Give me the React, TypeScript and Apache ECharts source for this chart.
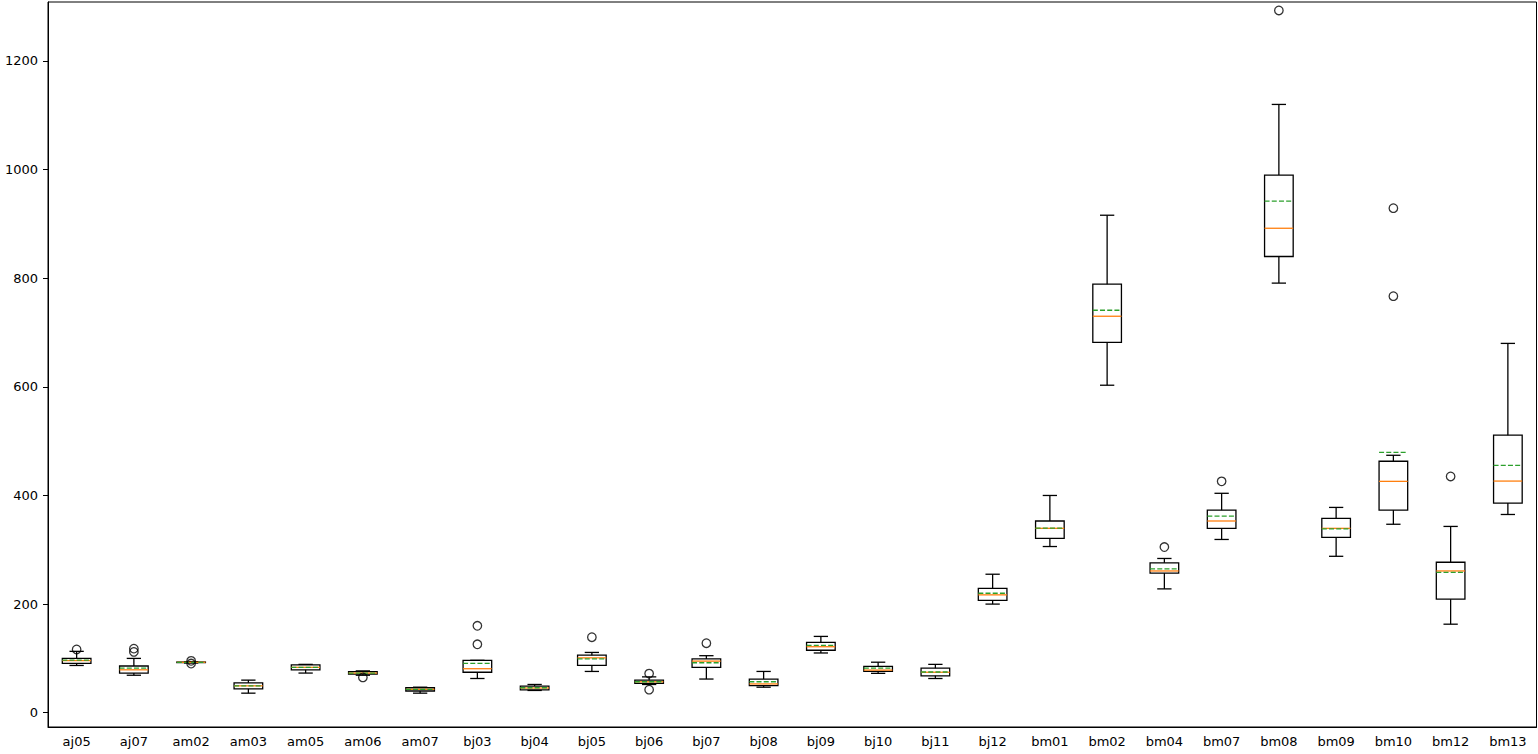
import React, { useEffect, useRef } from "react";
import * as echarts from "echarts";

const categories = [
  "aj05", "aj07", "am02", "am03", "am05", "am06", "am07", "bj03", "bj04", "bj05",
  "bj06", "bj07", "bj08", "bj09", "bj10", "bj11", "bj12", "bm01", "bm02", "bm04",
  "bm07", "bm08", "bm09", "bm10", "bm12", "bm13",
];

// whisker low, Q1, median, Q3, whisker high
const whiskerLow = [87, 69, 91.5, 36, 73, 69, 36, 63, 41, 76, 52, 62, 47, 110, 72.5, 63, 200, 306, 603, 228, 319, 791, 288, 347, 163, 365];
const q1 = [91, 73, 92.3, 44, 79, 71, 40, 74.5, 42, 87, 54, 83.5, 50, 115, 76, 68, 207, 321, 682, 257, 339.5, 840, 323, 373, 209, 386];
const median = [96, 79, 92.8, 49.5, 83.5, 73, 43, 81, 45.5, 101, 57, 95, 53, 121.5, 78.5, 74.5, 217, 339.5, 730, 261, 353, 892, 339.5, 426, 261, 426.5];
const q3 = [100, 86, 93.3, 55, 88, 75.5, 46, 96.5, 49, 106, 60, 99, 62, 129.5, 85.5, 82, 229, 353, 789, 276, 373, 990, 358, 463, 277, 511];
const whiskerHigh = [113, 100, 94, 60, 89, 77, 47, 96.5, 52, 111, 66, 105, 76, 140.5, 93, 89, 255, 400, 916, 284, 404, 1120, 378, 474, 343, 680];
const means = [97, 82, 92.8, 49.5, 83.5, 73, 43, 91, 46, 99, 57, 92, 57, 124, 82, 75, 220, 340, 741, 265, 362, 942, 338.5, 479.5, 258.5, 455.5];

// outliers as [category index, value]
const outliers: [number, number][] = [
  [0, 116.5],
  [1, 112], [1, 118],
  [2, 90.5], [2, 95.5],
  [5, 65],
  [7, 126], [7, 160],
  [9, 139],
  [10, 72], [10, 42.5],
  [11, 128],
  [19, 305],
  [20, 426],
  [21, 1293],
  [23, 767], [23, 929],
  [24, 435],
];

const yTicks = [0, 200, 400, 600, 800, 1000, 1200];

export default function App() {
  const ref = useRef<HTMLDivElement>(null);

  useEffect(() => {
    if (!ref.current) return;
    const chart = echarts.init(ref.current, null, { renderer: "svg" });

    const boxData = categories.map((_, i) => [
      i, whiskerLow[i], q1[i], median[i], q3[i], whiskerHigh[i], means[i],
    ]);

    const lw = 1.3;

    const renderItem = (params: any, api: any) => {
      const idx = api.value(0);
      const low = api.coord([idx, api.value(1)]);
      const b1 = api.coord([idx, api.value(2)]);
      const med = api.coord([idx, api.value(3)]);
      const b3 = api.coord([idx, api.value(4)]);
      const high = api.coord([idx, api.value(5)]);
      const mn = api.coord([idx, api.value(6)]);
      const band = api.size([1, 0])[0];
      const hw = band * 0.25;
      const cw = band * 0.125;
      const cx = low[0];
      const black = { stroke: "#000", lineWidth: lw, fill: "none" };
      return {
        type: "group",
        children: [
          { type: "line", shape: { x1: cx, y1: b3[1], x2: cx, y2: high[1] }, style: black },
          { type: "line", shape: { x1: cx, y1: low[1], x2: cx, y2: b1[1] }, style: black },
          { type: "line", shape: { x1: cx - cw, y1: high[1], x2: cx + cw, y2: high[1] }, style: black },
          { type: "line", shape: { x1: cx - cw, y1: low[1], x2: cx + cw, y2: low[1] }, style: black },
          {
            type: "rect",
            shape: { x: cx - hw, y: b3[1], width: hw * 2, height: b1[1] - b3[1] },
            style: { stroke: "#000", lineWidth: lw, fill: "none" },
          },
          {
            type: "line",
            shape: { x1: cx - hw, y1: med[1], x2: cx + hw, y2: med[1] },
            style: { stroke: "#ff7f0e", lineWidth: lw },
          },
          {
            type: "line",
            shape: { x1: cx - hw, y1: mn[1], x2: cx + hw, y2: mn[1] },
            style: { stroke: "#2ca02c", lineWidth: lw, lineDash: [5, 2.2] },
          },
        ],
      };
    };

    const font = "DejaVu Sans";

    chart.setOption({
      animation: false,
      grid: {
        left: 48,
        right: 1.5,
        top: 2,
        bottom: 27,
        show: true,
        borderColor: "#000",
        borderWidth: 1,
        backgroundColor: "#fff",
      },
      xAxis: {
        type: "category",
        data: categories,
        boundaryGap: true,
        axisLine: { onZero: false, lineStyle: { color: "#000", width: 1 } },
        axisTick: { alignWithLabel: true, length: 5, lineStyle: { color: "#000", width: 1 } },
        axisLabel: { color: "#000", fontSize: 13, fontFamily: font, margin: 8, interval: 0 },
        splitLine: { show: false },
      },
      yAxis: {
        type: "value",
        min: -26.3,
        max: 1308.6,
        splitNumber: 7,
        axisLine: { show: true, onZero: false, lineStyle: { color: "#000", width: 1 } },
        axisTick: { show: true, length: 5, lineStyle: { color: "#000", width: 1 }, customValues: yTicks },
        axisLabel: {
          color: "#000",
          fontSize: 13,
          fontFamily: font,
          margin: 10,
          customValues: yTicks,
          formatter: (v: number) => String(Math.round(v)),
        },
        splitLine: { show: false },
      },
      series: [
        {
          type: "custom",
          renderItem,
          data: boxData,
          encode: { x: 0, y: [1, 2, 3, 4, 5, 6] },
          z: 2,
        },
        {
          type: "scatter",
          data: outliers,
          symbol: "circle",
          symbolSize: 8.5,
          itemStyle: { color: "rgba(0,0,0,0)", borderColor: "#000", borderWidth: lw },
          z: 3,
        },
      ],
    });

    return () => chart.dispose();
  }, []);

  return (
    <div
      ref={ref}
      style={{ position: "absolute", left: 0, top: 0, width: 1538, height: 754, background: "#fff" }}
    />
  );
}
